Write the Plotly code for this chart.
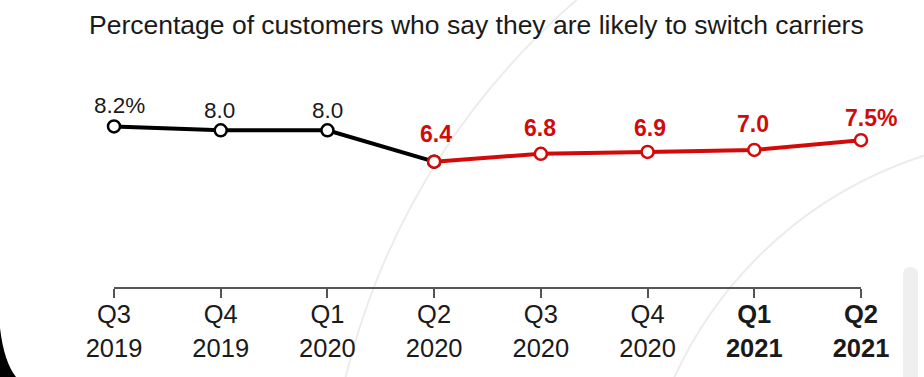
import plotly.graph_objects as go

# ---- data ----
quarters = ["Q3", "Q4", "Q1", "Q2", "Q3", "Q4", "Q1", "Q2"]
years = ["2019", "2019", "2020", "2020", "2020", "2020", "2021", "2021"]
values = [8.2, 8.0, 8.0, 6.4, 6.8, 6.9, 7.0, 7.5]
bold_years = ["2021"]
split_index = 3          # first point of the red segment
title_text = "Percentage of customers who say they are likely to switch carriers"

# ---- style ----
BLACK = "#000000"
RED = "#d20a0a"
TXT = "#1a1a1a"
W, H = 924, 377
L, R, T, B = 114, 63, 100, 90
PW, PH = W - L - R, H - T - B
FONT = "Liberation Sans, Arial, sans-serif"

label_dx = [5, -1, 0, 2, -1, 2, -1, 10]
label_dy = [21, 20, 20, 28, 26, 24, 26, 22]

cats = list(range(len(values)))
ticktext = []
for q, y in zip(quarters, years):
    t = f"{q}<br>{y}"
    ticktext.append(f"<b>{t}</b>" if y in bold_years else t)

def px(x):
    return (x - L) / PW

def py(y):
    return 1 - (y - T) / PH

fig = go.Figure()

marker_common = dict(size=12, color="white")
fig.add_trace(go.Scatter(
    x=cats[:split_index + 1], y=values[:split_index + 1], mode="lines+markers",
    line=dict(color=BLACK, width=4),
    marker=dict(**marker_common, line=dict(color=BLACK, width=2.5)),
    cliponaxis=False, hoverinfo="skip", showlegend=False))
fig.add_trace(go.Scatter(
    x=cats[split_index:], y=values[split_index:], mode="lines+markers",
    line=dict(color=RED, width=4),
    marker=dict(**marker_common, line=dict(color=RED, width=2.5)),
    cliponaxis=False, hoverinfo="skip", showlegend=False))

annotations = []
n = len(values)
for i, v in enumerate(values):
    txt = f"{v:.1f}" + ("%" if i in (0, n - 1) else "")
    red = i >= split_index
    annotations.append(dict(
        x=cats[i], y=v, xref="x", yref="y", text=f"<b>{txt}</b>" if red else txt,
        showarrow=False, xanchor="center", yanchor="middle",
        xshift=label_dx[i], yshift=label_dy[i],
        font=dict(family=FONT, size=23 if red else 22.5, color=RED if red else TXT)))

annotations.append(dict(
    x=px(476), y=py(25), xref="paper", yref="paper", text=title_text,
    showarrow=False, xanchor="center", yanchor="middle",
    font=dict(family=FONT, size=26.5, color=TXT)))

# decorative background arcs (concentric circles)
cx, cy = 1050, 549
shapes = []
for r in (725, 413):
    shapes.append(dict(type="circle", xref="paper", yref="paper",
                       x0=px(cx - r), x1=px(cx + r), y0=py(cy + r), y1=py(cy - r),
                       line=dict(color="#ececec", width=2), layer="below"))
# light gray rounded bar at right edge
shapes.append(dict(type="path", xref="paper", yref="paper",
                   path=(f"M {px(903)},{py(380)} L {px(903)},{py(275)} "
                         f"Q {px(903)},{py(267)} {px(910.5)},{py(267)} "
                         f"Q {px(918)},{py(267)} {px(918)},{py(275)} "
                         f"L {px(918)},{py(380)} Z"),
                   fillcolor="#efefef", line=dict(width=0), layer="below"))
# dark device corner bottom-left
shapes.append(dict(type="path", xref="paper", yref="paper",
                   path=(f"M {px(0)},{py(328)} Q {px(4)},{py(362)} {px(16)},{py(377)} "
                         f"L {px(0)},{py(377)} Z"),
                   fillcolor="#000000", line=dict(width=0), layer="above"))

fig.update_layout(
    width=W, height=H,
    margin=dict(l=L, r=R, t=T, b=B, pad=0),
    paper_bgcolor="white", plot_bgcolor="rgba(0,0,0,0)",
    annotations=annotations, shapes=shapes,
    xaxis=dict(range=[0, n - 1], tickmode="array", tickvals=cats, ticktext=ticktext,
               showline=True, linecolor="#555555", linewidth=1.5,
               ticks="outside", ticklen=9, tickwidth=1.5, tickcolor="#555555",
               ticklabelstandoff=-5,
               showgrid=False, zeroline=False,
               tickfont=dict(family=FONT, size=25.5, color=TXT)),
    yaxis=dict(range=[0, 9.55], visible=False, showgrid=False, zeroline=False),
)

fig.write_html("out.html", config={"displayModeBar": False},
               post_script="document.body.style.margin='0px';")
